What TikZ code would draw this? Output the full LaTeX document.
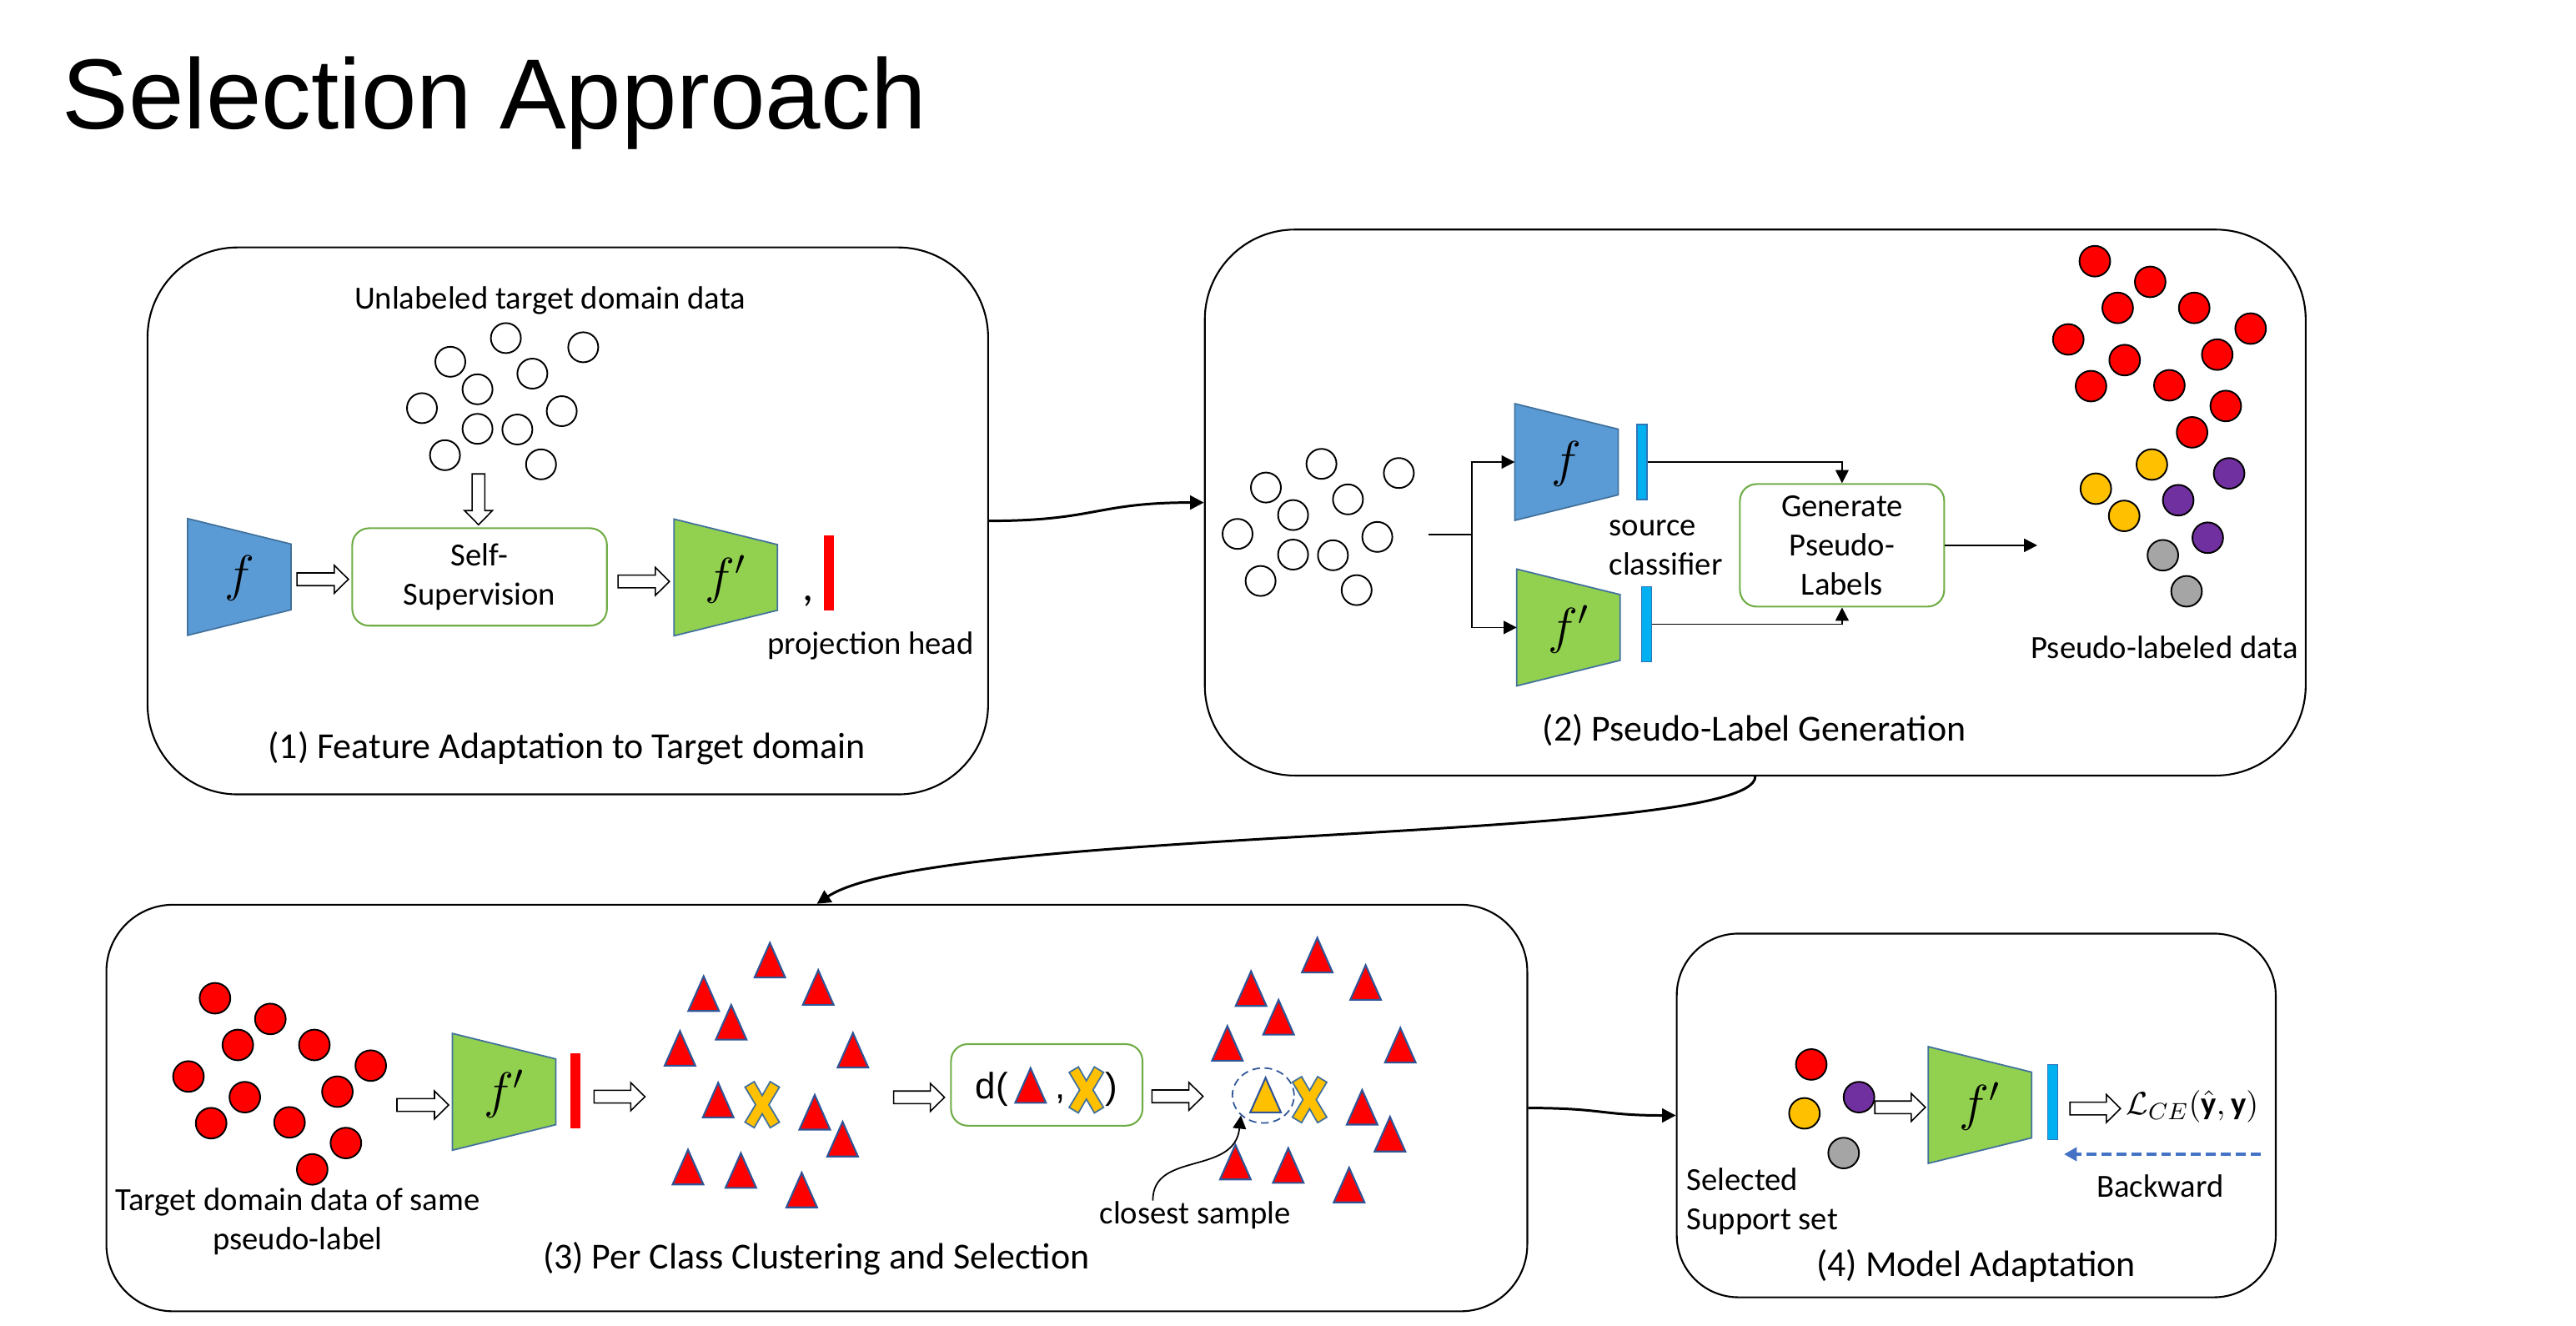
\documentclass[tikz,border=0pt]{standalone}
\usepackage{fontspec}
\setmainfont{Carlito}
\newfontfamily\headfont{Liberation Sans}
\usetikzlibrary{arrows.meta,shapes.geometric}

\definecolor{encblue}{HTML}{5B9BD5}
\definecolor{encgreen}{HTML}{92D050}
\definecolor{encedge}{HTML}{41719C}
\definecolor{procgreen}{HTML}{70AD47}
\definecolor{headcyan}{HTML}{00B0F0}
\definecolor{headedge}{HTML}{2E75B6}
\definecolor{triedge}{HTML}{2F5597}
\definecolor{dotyellow}{HTML}{FFC000}
\definecolor{dotpurple}{HTML}{7030A0}
\definecolor{dotgray}{HTML}{A5A5A5}
\definecolor{backblue}{HTML}{4472C4}

\tikzset{
	stagebox/.style={draw, line width=0.6pt, inner sep=0pt},
	procbox/.style={draw=procgreen, line width=0.6pt, rounded corners=0.2cm, align=center, inner sep=0pt, font=\fontsize{11}{13.4}\selectfont},
	encshape/.style={draw=encedge, line width=0.5pt},
	enclabel/.style={inner sep=0pt, font=\fontsize{17.28}{20}\selectfont},
	headbar/.style={minimum width=0.12cm, minimum height=0.9cm, inner sep=0pt},
	blockarr/.style={draw, fill=white, line width=0.45pt},
	datadot/.style={draw, line width=0.55pt},
	samplemark/.style={draw=triedge, line width=0.6pt},
	centroidmark/.style={draw=encedge, fill=dotyellow, line width=0.5pt},
	stepnote/.style={inner sep=0pt, font=\fontsize{11}{13.4}\selectfont},
	steptitle/.style={inner sep=0pt, font=\fontsize{12.5}{15}\selectfont},
	flowarrow/.style={line width=0.85pt, -{Triangle[length=4.7pt,width=4.7pt]}},
	thinline/.style={line width=0.5pt},
	thinarrow/.style={line width=0.5pt, -{Triangle[length=4.5pt,width=4.5pt]}},
	backarrow/.style={draw=backblue, line width=1.1pt, dash pattern=on 3.4pt off 1.7pt, -{Triangle[length=4.4pt,width=4.6pt]}},
	pickring/.style={draw=triedge, line width=0.5pt, dash pattern=on 2.6pt off 1.6pt, ellipse, minimum width=0.74cm, minimum height=0.66cm, inner sep=0pt},
}

% hollow block arrow: tail point, length : angle
\def\blockarrow(#1)(#2:#3){\draw[blockarr, rotate around={#3:(#1)}] (#1) ++(0,-3.8) -- ++(#2-8.5,0) -- ++(0,-4.6) -- ++(8.5,8.4) -- ++(-8.5,8.4) -- ++(0,-4.6) -- ++(8.5-#2,0) -- cycle;}
% trapezoid encoder: name, left edge x, centre y, fill, label
\def\drawencoder[#1](#2,#3)#4#5{%
	\draw[encshape, fill=#4] (#2,#3-35) -- (#2+62,#3-19.7) -- (#2+62,#3+19.7) -- (#2,#3+35) -- cycle;
	\node[enclabel] (#1) at (#2+31,#3+1) {#5};
	\coordinate (#1-in) at (#2,#3);}
\def\drawsample(#1,#2)#3{\draw[samplemark, fill=#3] (#1-9.2,#2+10.4) -- (#1,#2-10.4) -- (#1+9.2,#2+10.4) -- cycle;}
\def\drawcentroid(#1,#2){\draw[centroidmark, shift={(#1,#2)}] (-10.3,-10.5) -- (-4.8,-13.8) -- (0,-5.5) -- (4.8,-13.8) -- (10.3,-10.5) -- (4,0) -- (10.3,10.5) -- (4.8,13.8) -- (0,5.5) -- (-4.8,13.8) -- (-10.3,10.5) -- (-4,0) -- cycle;}

\def\whitepool{%
	\draw[datadot, fill=white] (792.3,278.1) circle (0.18cm);
	\draw[datadot, fill=white] (838.7,283.6) circle (0.18cm);
	\draw[datadot, fill=white] (759.0,292.3) circle (0.18cm);
	\draw[datadot, fill=white] (808.2,299.4) circle (0.18cm);
	\draw[datadot, fill=white] (775.3,308.8) circle (0.18cm);
	\draw[datadot, fill=white] (742.0,320.1) circle (0.18cm);
	\draw[datadot, fill=white] (825.8,321.9) circle (0.18cm);
	\draw[datadot, fill=white] (775.3,332.5) circle (0.18cm);
	\draw[datadot, fill=white] (799.2,332.9) circle (0.18cm);
	\draw[datadot, fill=white] (755.8,348.3) circle (0.18cm);
	\draw[datadot, fill=white] (813.4,353.8) circle (0.18cm);}
\def\redpool{%
	\draw[datadot, fill=red] (1256.0,156.6) circle (0.184cm);
	\draw[datadot, fill=red] (1289.2,169.0) circle (0.184cm);
	\draw[datadot, fill=red] (1269.7,184.6) circle (0.184cm);
	\draw[datadot, fill=red] (1315.6,184.6) circle (0.184cm);
	\draw[datadot, fill=red] (1349.4,197.0) circle (0.184cm);
	\draw[datadot, fill=red] (1240.1,203.5) circle (0.184cm);
	\draw[datadot, fill=red] (1329.4,212.6) circle (0.184cm);
	\draw[datadot, fill=red] (1273.9,215.9) circle (0.184cm);
	\draw[datadot, fill=red] (1253.7,231.5) circle (0.184cm);
	\draw[datadot, fill=red] (1300.7,231.0) circle (0.184cm);
	\draw[datadot, fill=red] (1334.5,243.4) circle (0.184cm);
	\draw[datadot, fill=red] (1314.3,259.2) circle (0.184cm);}
% #1 = colour of the sample closest to the centroid
\def\cluster#1{%
	\drawsample(461.6,575.65){red} \drawsample(421.9,595.7){red} \drawsample(490.6,592.05){red}
	\drawsample(438.4,612.9){red} \drawsample(407.7,628.55){red} \drawsample(511.4,629.65){red}
	\drawsample(488.5,666.85){red} \drawsample(505.2,682.95){red} \drawsample(412.5,699.7){red}
	\drawsample(444.2,701.75){red} \drawsample(480.7,713.45){red}
	\drawsample(430.6,659.55){#1}
	\drawcentroid(457,662.3)}

\begin{document}
\begin{tikzpicture}[x=0.02cm, y=-0.02cm]
	%%%%% START %%%%%
	\useasboundingbox (0,0) rectangle (1544.5,795);
	\node[anchor=base west, inner sep=0pt, font=\headfont\fontsize{34}{40}\selectfont] (title) at (37,77) {Selection Approach};
	
	\node[stagebox, rounded corners=1.08cm, minimum width=10.082cm, minimum height=6.56cm] (stage1) at (340.45,312.3) {};
	\node[stagebox, rounded corners=1.08cm, minimum width=13.204cm, minimum height=6.548cm] (stage2) at (1052.4,301.3) {};
	\node[stagebox, rounded corners=0.8cm, minimum width=17.042cm, minimum height=4.876cm] (stage3) at (489.75,664.3) {};
	\node[stagebox, rounded corners=0.74cm, minimum width=7.184cm, minimum height=4.362cm] (stage4) at (1184.9,668.75) {};
	
	\draw[flowarrow] (stage1.east) .. controls +(64,0) and +(-65,0) .. (stage2.west);
	\draw[flowarrow] (stage2.south) .. controls +(0,40) and (560,495) .. (stage3.north);
	\draw[flowarrow] (stage3.east) .. controls +(45,0) and +(-45,0) .. (stage4.west);
	
	% (1)
	\node[stepnote] (unlabeled) at (329.8,180.2) {Unlabeled target domain data};
	\begin{scope}[shift={(-489,-75.4)}]
		\whitepool
	\end{scope}
	\blockarrow(286.9,284.1)(30.5:-90)
	\drawencoder[encA](112.5,345.9){encblue}{$f$}
	\blockarrow(178.1,347.3)(30.8:0)
	\node[procbox, minimum width=3.054cm, minimum height=1.168cm] (selfsup) at (287.55,345.9) {Self-\\Supervision};
	\blockarrow(370.6,348.6)(30.8:0)
	\drawencoder[encAp](404.1,346.2){encgreen}{$f'$}
	\node[inner sep=0pt, font=\fontsize{15}{18}\selectfont] (comma) at (484.5,360.5) {,};
	\node[headbar, fill=red] (projA) at (496.9,343.7) {};
	\node[stepnote] (projlbl) at (522,387.2) {projection head};
	\node[steptitle] (title1) at (339.8,448.8) {(1) Feature Adaptation to Target domain};
	
	% (2)
	\whitepool
	\coordinate (pool) at (856.6,320.5);
	\coordinate (split) at (882.5,320.5);
	\drawencoder[encB](908.2,277){encblue}{$f$}
	\drawencoder[encBp](909.4,376.2){encgreen}{$f'$}
	\node[headbar, fill=headcyan, draw=headedge, line width=0.4pt] (clsB) at (984.4,277) {};
	\node[headbar, fill=headcyan, draw=headedge, line width=0.4pt] (clsBp) at (987.3,374.2) {};
	\node[stepnote, align=left, anchor=west] (srccls) at (964.5,328.5) {source\\classifier};
	\node[procbox, minimum width=2.45cm, minimum height=1.47cm] (genpl) at (1104.45,326.95) {Generate\\Pseudo-\\Labels};
	\coordinate (plin) at (1221.5,326.95);
	\draw[thinline] (pool) -- (split);
	\draw[thinarrow] (split) |- (encB-in);
	\draw[thinarrow] (split) |- (encBp-in);
	\draw[thinarrow] (clsB.east) -| (genpl.north);
	\draw[thinarrow] (clsBp.east) -| (genpl.south);
	\draw[thinarrow] (genpl.east) -- (plin);
	\redpool
	\draw[datadot, fill=dotyellow] (1290.2,278.5) circle (0.184cm);
	\draw[datadot, fill=dotyellow] (1256.6,293.0) circle (0.184cm);
	\draw[datadot, fill=dotyellow] (1273.6,309.3) circle (0.184cm);
	\draw[datadot, fill=dotpurple] (1336.5,283.8) circle (0.184cm);
	\draw[datadot, fill=dotpurple] (1306.0,299.9) circle (0.184cm);
	\draw[datadot, fill=dotpurple] (1323.7,322.4) circle (0.184cm);
	\draw[datadot, fill=dotgray] (1296.8,332.9) circle (0.184cm);
	\draw[datadot, fill=dotgray] (1311.0,354.5) circle (0.184cm);
	\node[stepnote] (pldata) at (1297.8,388.3) {Pseudo-labeled data};
	\node[steptitle] (title2) at (1051.8,437.6) {(2) Pseudo-Label Generation};
	
	% (3)
	\begin{scope}[shift={(-1127.1,441.9)}]
		\redpool
	\end{scope}
	\node[stepnote, align=center] (tgtlbl) at (178.5,732.3) {Target domain data of same\\pseudo-label};
	\blockarrow(238,662.5)(31:0)
	\drawencoder[encC](271.3,654.6){encgreen}{$f'$}
	\node[headbar, fill=red] (projC) at (344.9,654.1) {};
	\blockarrow(356.2,657.5)(30.5:0)
	\cluster{red}
	\blockarrow(535.8,657.9)(30.5:0)
	\node[procbox, minimum width=2.296cm, minimum height=0.978cm] (dist) at (627.6,650.45) {};
	\node[anchor=west, inner sep=0pt, font=\headfont\fontsize{12.5}{14}\selectfont] (distl) at (584.5,653) {d(};
	\drawsample(617.9,650.8){red}
	\node[inner sep=0pt, font=\headfont\fontsize{12.5}{14}\selectfont] (distc) at (636,659) {,};
	\drawcentroid(651.35,653.45)
	\node[inner sep=0pt, font=\headfont\fontsize{12.5}{14}\selectfont] (distr) at (666.4,653) {)};
	\blockarrow(690.7,657.3)(30.6:0)
	\begin{scope}[shift={(328.2,-3)}]
		\cluster{dotyellow}
	\end{scope}
	\node[pickring] (pick) at (757.4,656.8) {};
	\node[stepnote] (closest) at (716.7,728.8) {closest sample};
	\coordinate (closest-tail) at (691.2,719.8);
	\draw[thinarrow] (closest-tail) .. controls (691,690) and (740,705) .. (pick.south west);
	\node[steptitle] (title3) at (489.4,754.8) {(3) Per Class Clustering and Selection};
	
	% (4)
	\draw[datadot, fill=red] (1086.0,638.2) circle (0.184cm);
	\draw[datadot, fill=dotyellow] (1081.9,667.5) circle (0.184cm);
	\draw[datadot, fill=dotpurple] (1114.6,657.8) circle (0.184cm);
	\draw[datadot, fill=dotgray] (1105.4,691.3) circle (0.184cm);
	\blockarrow(1124.1,663.9)(30.3:0)
	\drawencoder[encD](1156.1,662.5){encgreen}{$f'$}
	\node[headbar, fill=headcyan, draw=headedge, line width=0.4pt] (clsD) at (1230.7,660.8) {};
	\blockarrow(1241.1,664.6)(30.3:0)
	\node[inner sep=0pt, font=\fontsize{11}{13}\selectfont] (loss) at (1314.5,663.4) {$\mathcal{L}_{CE}(\hat{\mathbf{y}},\mathbf{y})$};
	\coordinate (bw-tail) at (1355.5,692);
	\coordinate (bw-head) at (1237.5,692);
	\draw[backarrow] (bw-tail) -- (bw-head);
	\node[stepnote] (bwlbl) at (1295.2,711.2) {Backward};
	\node[stepnote, align=left, anchor=west] (support) at (1011,720.2) {Selected\\Support set};
	\node[steptitle] (title4) at (1184.8,759.2) {(4) Model Adaptation};
	%%%%% END %%%%%
\end{tikzpicture}
\end{document}
